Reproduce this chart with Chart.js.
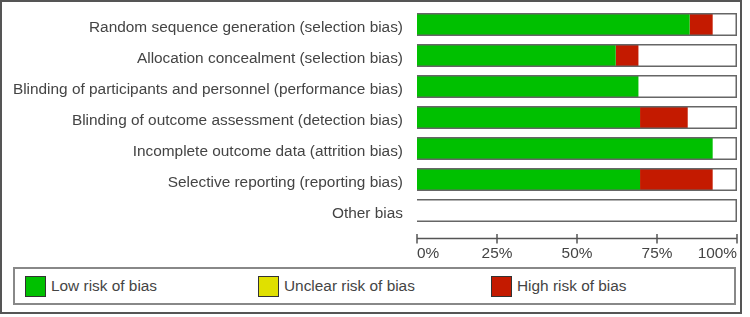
<!DOCTYPE html>
<html>
<head>
<meta charset="utf-8">
<script src="https://cdn.jsdelivr.net/npm/chart.js@4/dist/chart.umd.min.js"></script>
<style>
  body { margin: 0; background: #fff; }
  #wrap { position: relative; width: 750px; height: 317px; font-family: "Liberation Sans", Arial, sans-serif; }
  #frame { position: absolute; left: 0; top: 0; width: 742px; height: 314px; border: 2px solid #555; box-sizing: border-box; }
  #chart { position: absolute; left: 0; top: 0; }
  #legend { position: absolute; left: 13px; top: 267px; width: 723px; height: 38px; border: 2px solid #888; box-sizing: border-box;
            display: flex; align-items: center; padding-left: 10px; }
  .item { width: 233px; display: flex; align-items: center; font-size: 15.4px; color: #444; }
  .sw { width: 19px; height: 19px; border: 1px solid #333; margin-right: 5px; }
</style>
</head>
<body>
<div id="wrap">
  <div id="frame"></div>
  <canvas id="chart" width="750" height="264"></canvas>
  <div id="legend"></div>
</div>
<script>
const domains = [
  'Random sequence generation (selection bias)',
  'Allocation concealment (selection bias)',
  'Blinding of participants and personnel (performance bias)',
  'Blinding of outcome assessment (detection bias)',
  'Incomplete outcome data (attrition bias)',
  'Selective reporting (reporting bias)',
  'Other bias'
];
// percent of studies per judgement
const lowRisk = [85.2, 62.1, 69.2, 69.7, 92.4, 69.7, 0];
const unclearRisk = [0, 0, 0, 0, 0, 0, 0];
const highRisk = [7.2, 7.1, 0, 14.9, 0, 22.7, 0];
const fullBar = [100, 100, 100, 100, 100, 100, 100];
const xTicks = [0, 25, 50, 75, 100];

const series = [
  { label: 'Low risk of bias', data: lowRisk, color: '#00c000' },
  { label: 'Unclear risk of bias', data: unclearRisk, color: '#e0e000' },
  { label: 'High risk of bias', data: highRisk, color: '#c41a00' }
];

const labelFont = { family: 'Liberation Sans', size: 15.4 };

// x axis drawn a little below the plot, ticks crossing the line
const axisLine = {
  id: 'axisLine',
  afterDraw(chart) {
    const x = chart.scales.x;
    const ctx = chart.ctx;
    const y0 = x.top + 12.5;
    ctx.save();
    ctx.strokeStyle = '#555';
    ctx.lineWidth = 1.5;
    ctx.beginPath();
    ctx.moveTo(x.getPixelForValue(0), y0);
    ctx.lineTo(x.getPixelForValue(100), y0);
    xTicks.forEach(v => {
      const px = x.getPixelForValue(v);
      ctx.moveTo(px, y0 - 4.5);
      ctx.lineTo(px, y0 + 5);
    });
    ctx.stroke();
    ctx.restore();
  }
};

const datasets = series.map(s => ({
  label: s.label,
  data: s.data,
  backgroundColor: s.color,
  borderWidth: 0,
  stack: 'risk',
  grouped: false,
  order: 1
}));
datasets.push({
  label: 'frame',
  data: fullBar,
  backgroundColor: 'rgba(0,0,0,0)',
  borderColor: '#666',
  borderWidth: 1.5,
  stack: 'frame',
  grouped: false,
  order: 0
});

new Chart(document.getElementById('chart'), {
  type: 'bar',
  data: { labels: domains, datasets: datasets },
  options: {
    indexAxis: 'y',
    responsive: false,
    animation: false,
    devicePixelRatio: 1,
    barPercentage: 0.74,
    categoryPercentage: 1.0,
    layout: { padding: { top: 9, left: 4, right: 13, bottom: 0 } },
    plugins: { legend: { display: false }, tooltip: { enabled: false } },
    scales: {
      x: {
        stacked: true,
        min: 0, max: 100,
        grid: { display: false },
        border: { display: false },
        afterBuildTicks(scale) { scale.ticks = xTicks.map(v => ({ value: v })); },
        afterFit(scale) {
          scale.height = 264 - 226;
          scale.paddingLeft = 0;
          scale.paddingRight = 0;
        },
        ticks: {
          align: 'inner',
          padding: 11,
          color: '#444',
          font: labelFont,
          callback: v => v + '%'
        }
      },
      y: {
        stacked: true,
        grid: { display: false },
        border: { display: false },
        afterFit(scale) {
          scale.width = 413;
          scale.paddingTop = 0;
          scale.paddingBottom = 0;
        },
        ticks: {
          padding: 6,
          labelOffset: 3,
          color: '#444',
          font: labelFont
        }
      }
    }
  },
  plugins: [axisLine]
});

const legend = document.getElementById('legend');
series.forEach(s => {
  const item = document.createElement('div');
  item.className = 'item';
  const sw = document.createElement('div');
  sw.className = 'sw';
  sw.style.background = s.color;
  const txt = document.createElement('span');
  txt.textContent = s.label;
  item.appendChild(sw);
  item.appendChild(txt);
  legend.appendChild(item);
});
</script>
</body>
</html>
